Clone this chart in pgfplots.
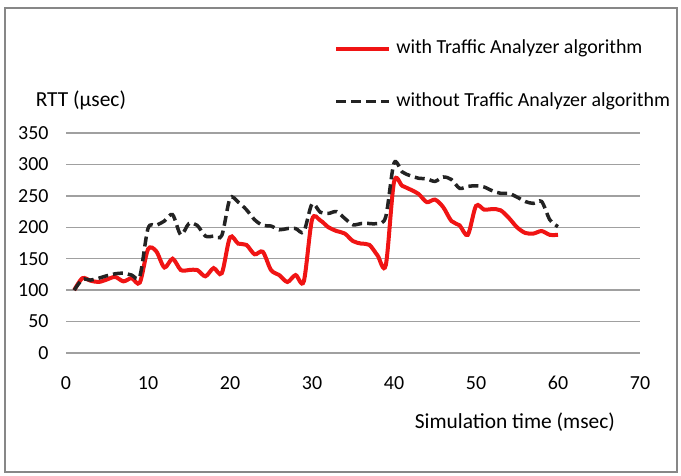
\documentclass[border=0pt]{standalone}
\usepackage{fontspec}
\setmainfont{Carlito}
\usepackage{pgfplots}
\pgfplotsset{compat=1.18}

\definecolor{gridgray}{RGB}{160,160,160}
\definecolor{framegray}{RGB}{135,135,135}
\definecolor{seriesred}{RGB}{240,20,20}
\definecolor{seriesdark}{RGB}{35,35,35}

\begin{document}
\begin{tikzpicture}[x=1bp,y=1bp,font=\fontsize{20}{24}\selectfont]
\useasboundingbox (0,0) rectangle (681,476);
\draw[framegray, line width=2bp] (5,4) rectangle (677,468);
\begin{axis}[
  at={(66bp,123bp)}, anchor=south west,
  scale only axis, width=574bp, height=220bp,
  xmin=0, xmax=70, ymin=0, ymax=350,
  xtick={0,10,...,70}, ytick={0,50,...,350},
  axis line style={draw=none},
  major tick length=0pt,
  ymajorgrids, grid style={gridgray, line width=1.5bp},
  /pgf/number format/assume math mode=true,
  xticklabel style={anchor=base, yshift=-37bp},
  yticklabel style={anchor=east, xshift=-14bp},
  xlabel={Simulation time (msec)},
  xlabel style={at={(axis description cs:0.782,-0.314)}, anchor=center,
    font=\fontsize{21.5}{25}\selectfont},
  ylabel={RTT (µsec)},
  ylabel style={at={(axis description cs:0.026,1.15)}, anchor=center, rotate=-90,
    font=\fontsize{21.5}{25}\selectfont},
  legend style={at={(axis description cs:0.467,1.425)}, anchor=north west,
    draw=none, fill=none, inner sep=0pt, row sep=35bp, column sep=5bp,
    nodes={inner sep=0pt, text height=14bp, text depth=4bp}},
  legend cell align=left,
  legend image code/.code={\draw[#1] (0bp,0bp) -- (53bp,0bp);},
  clip=false,
]
% RTT with the Traffic Analyzer algorithm
\addplot[seriesred, line width=4bp, smooth, tension=0.5] coordinates {
(1,100) (2,119) (3,115) (4,113) (5,117) (6,121) (7,114) (8,119) (9,112) (10,165)
(11,162) (12,136) (13,150) (14,132) (15,132) (16,132) (17,122) (18,135) (19,127) (20,184)
(21,174) (22,172) (23,157) (24,161) (25,132) (26,124) (27,113) (28,124) (29,114) (30,212)
(31,211) (32,200) (33,194) (34,190) (35,178) (36,174) (37,172) (38,155) (39,140) (40,272)
(41,266) (42,260) (43,253) (44,240) (45,244) (46,232) (47,210) (48,203) (49,188) (50,234)
(51,228) (52,229) (53,227) (54,215) (55,200) (56,191) (57,190) (58,194) (59,188) (60,188)
};
\addlegendentry{with Traffic Analyzer algorithm}
% RTT without the Traffic Analyzer algorithm
\addplot[seriesdark, line width=3.5bp, dash pattern=on 10bp off 5bp, smooth, tension=0.5] coordinates {
(1,100) (2,117) (3,116) (4,119) (5,123) (6,126) (7,127) (8,124) (9,122) (10,198)
(11,203) (12,210) (13,220) (14,188) (15,206) (16,203) (17,186) (18,186) (19,187) (20,246)
(21,240) (22,228) (23,212) (24,203) (25,202) (26,196) (27,198) (28,198) (29,193) (30,237)
(31,224) (32,222) (33,225) (34,214) (35,204) (36,206) (37,206) (38,206) (39,217) (40,302)
(41,288) (42,282) (43,278) (44,277) (45,273) (46,280) (47,276) (48,262) (49,265) (50,266)
(51,264) (52,258) (53,254) (54,254) (55,248) (56,241) (57,238) (58,241) (59,212) (60,201)
};
\addlegendentry{without Traffic Analyzer algorithm}
\end{axis}
\end{tikzpicture}
\end{document}
